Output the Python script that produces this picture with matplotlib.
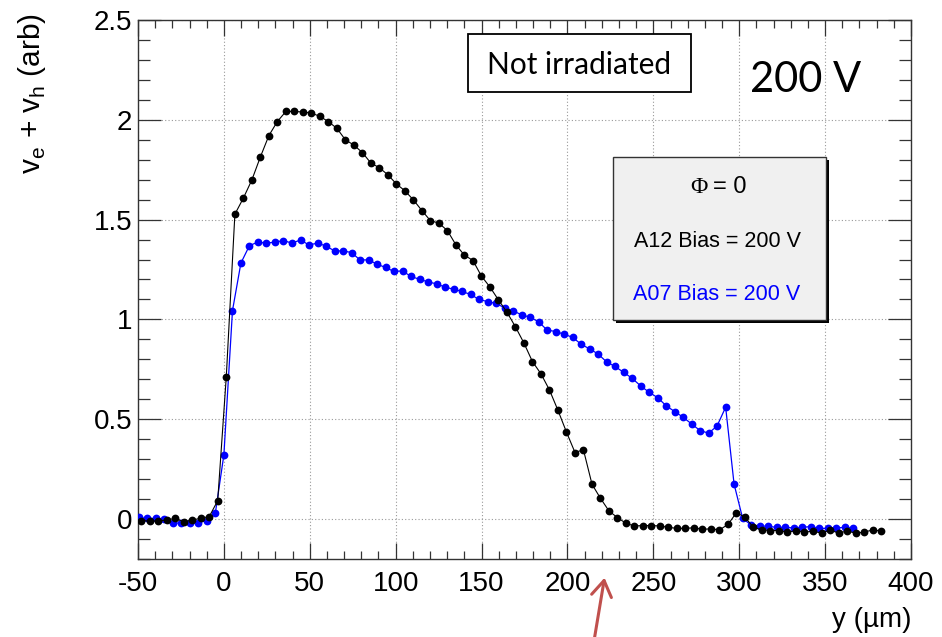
import matplotlib.pyplot as plt
from matplotlib.patches import Rectangle
from matplotlib.ticker import MultipleLocator

plt.rcParams['font.family'] = ['Liberation Sans', 'DejaVu Sans']
plt.rcParams['mathtext.fontset'] = 'custom'
plt.rcParams['mathtext.rm'] = 'Liberation Sans'
plt.rcParams['axes.unicode_minus'] = False

# A12, 200 V (black)
a12_x = [-48.1, -43.2, -38.2, -33.3, -28.3, -23.4, -18.4, -13.5, -8.5, -3.6,
         1.4, 6.4, 11.3, 16.3, 21.2, 26.2, 31.1, 36.1, 41.0, 46.0,
         50.9, 55.9, 60.8, 65.8, 70.7, 75.7, 80.6, 85.6, 90.5, 95.5,
         100.4, 105.4, 110.3, 115.3, 120.2, 125.2, 130.1, 135.1, 140.0, 145.0,
         149.9, 154.9, 159.8, 164.8, 169.7, 174.7, 179.6, 184.6, 189.5, 194.5,
         199.4, 204.4, 209.3, 214.3, 219.2, 224.2, 229.1, 234.1, 239.0, 244.0,
         248.9, 253.9, 258.8, 263.8, 268.7, 273.7, 278.6, 283.6, 288.5, 293.5,
         298.4, 303.4, 308.3, 313.3, 318.2, 323.2, 328.1, 333.1, 338.0, 343.0,
         347.9, 352.9, 357.8, 362.8, 367.7, 372.7, 377.6, 382.6]
a12_y = [-0.008, -0.010, -0.010, -0.005, 0.003, -0.013, -0.006, 0.004, 0.012, 0.092,
         0.713, 1.527, 1.607, 1.699, 1.813, 1.921, 1.991, 2.042, 2.042, 2.039,
         2.034, 2.017, 1.991, 1.957, 1.900, 1.873, 1.836, 1.783, 1.760, 1.724,
         1.679, 1.644, 1.599, 1.545, 1.495, 1.482, 1.445, 1.373, 1.322, 1.295,
         1.217, 1.162, 1.098, 1.036, 0.963, 0.881, 0.789, 0.727, 0.647, 0.544,
         0.436, 0.333, 0.347, 0.174, 0.104, 0.040, 0.007, -0.022, -0.035, -0.033,
         -0.033, -0.035, -0.042, -0.047, -0.047, -0.044, -0.052, -0.049, -0.055, -0.027,
         0.032, 0.008, -0.042, -0.055, -0.058, -0.058, -0.066, -0.058, -0.066, -0.061,
         -0.071, -0.055, -0.071, -0.060, -0.071, -0.066, -0.055, -0.060]

# A07, 200 V (blue)
a07_x = [-49.5, -44.6, -39.6, -34.7, -29.7, -24.8, -19.8, -14.9, -9.9, -5.0,
         0.0, 5.0, 9.9, 14.9, 19.8, 24.8, 29.7, 34.7, 39.6, 44.6,
         49.5, 54.5, 59.4, 64.4, 69.3, 74.3, 79.2, 84.2, 89.1, 94.1,
         99.0, 104.0, 108.9, 113.9, 118.8, 123.8, 128.7, 133.7, 138.6, 143.6,
         148.5, 153.5, 158.4, 163.4, 168.3, 173.3, 178.2, 183.2, 188.1, 193.1,
         198.0, 203.0, 207.9, 212.9, 217.8, 222.8, 227.7, 232.7, 237.6, 242.6,
         247.5, 252.5, 257.4, 262.4, 267.3, 272.3, 277.2, 282.2, 287.1, 292.1,
         297.0, 302.0, 306.9, 311.9, 316.8, 321.8, 326.7, 331.7, 336.6, 341.6,
         346.5, 351.5, 356.4, 361.4, 366.3]
a07_y = [0.008, 0.003, 0.003, -0.002, -0.018, -0.022, -0.022, -0.018, -0.008, 0.028,
         0.322, 1.044, 1.282, 1.370, 1.387, 1.382, 1.387, 1.395, 1.382, 1.398,
         1.373, 1.382, 1.368, 1.343, 1.343, 1.335, 1.298, 1.298, 1.277, 1.260,
         1.240, 1.243, 1.215, 1.201, 1.188, 1.178, 1.162, 1.151, 1.140, 1.125,
         1.100, 1.089, 1.080, 1.058, 1.043, 1.023, 1.011, 0.988, 0.947, 0.939,
         0.926, 0.910, 0.876, 0.852, 0.827, 0.787, 0.764, 0.735, 0.705, 0.667,
         0.635, 0.608, 0.568, 0.538, 0.510, 0.476, 0.443, 0.430, 0.466, 0.560,
         0.175, 0.003, -0.030, -0.035, -0.037, -0.042, -0.042, -0.045, -0.042, -0.038,
         -0.047, -0.047, -0.045, -0.042, -0.045]

x_ticks = [-50, 0, 50, 100, 150, 200, 250, 300, 350, 400]
x_labels = ['-50', '0', '50', '100', '150', '200', '250', '300', '350', '400']
y_ticks = [0, 0.5, 1, 1.5, 2, 2.5]
y_labels = ['0', '0.5', '1', '1.5', '2', '2.5']

W, H = 942, 637


def fx(px):
    return px / W


def fy(py):
    return 1 - py / H


fig = plt.figure(figsize=(W / 100, H / 100), dpi=100, facecolor='white')
ax = fig.add_axes([fx(138), fy(558.9), (911 - 138) / W, (558.9 - 20) / H])

ax.plot(a07_x, a07_y, '-o', color='#0000ff', lw=0.9, ms=5.6, mew=0, zorder=3)
ax.plot(a12_x, a12_y, '-o', color='black', lw=0.8, ms=5.6, mew=0, zorder=4)

ax.set_xlim(-50, 400)
ax.set_ylim(-0.2, 2.5)
ax.set_xticks(x_ticks, x_labels)
ax.set_yticks(y_ticks, y_labels)
ax.xaxis.set_minor_locator(MultipleLocator(10))
ax.yaxis.set_minor_locator(MultipleLocator(0.1))
ax.tick_params(which='both', direction='in', top=True, right=True,
               labelsize=20, color='#333333', width=0.9)
ax.tick_params(axis='x', which='major', length=11.3, pad=8.6)
ax.tick_params(axis='x', which='minor', length=5.8)
ax.tick_params(axis='y', which='major', length=16.6, pad=4.3)
ax.tick_params(axis='y', which='minor', length=8.6)
ax.grid(which='major', color='#999999', lw=0.8, linestyle=(0, (1, 2)))
for s in ax.spines.values():
    s.set_color('#333333')
    s.set_linewidth(1.0)

# axis titles
fig.text(fx(31.5), fy(13), r'v$_{\mathrm{e}}$ + v$_{\mathrm{h}}$ (arb)', rotation=90,
         ha='center', va='top', fontsize=21.5)
fig.text(fx(912), fy(620), 'y (µm)', ha='right', va='center', fontsize=20)

# "Not irradiated" box
fig.add_artist(Rectangle((fx(468), fy(92)), (691 - 468) / W, (92 - 34) / H,
                         transform=fig.transFigure, fc='white', ec='black', lw=1.3))
fig.text(fx(579.5), fy(74.3), 'Not irradiated', ha='center', va='baseline',
         fontsize=21.5, family=['Lato', 'DejaVu Sans'])
fig.text(fx(750), fy(91.7), '200 V', ha='left', va='baseline',
         fontsize=30, family=['Lato', 'DejaVu Sans'])

# legend pave with shadow
fig.add_artist(Rectangle((fx(616), fy(323)), (826 - 612.7) / W, (320 - 157.3) / H,
                         transform=fig.transFigure, fc='black', ec='none'))
fig.add_artist(Rectangle((fx(612.7), fy(320)), (826 - 612.7) / W, (320 - 157.3) / H,
                         transform=fig.transFigure, fc='#f0f0f0', ec='#333333', lw=1.0))
fig.text(fx(708), fy(193), 'Φ', ha='right', va='baseline', fontsize=17,
         family=['Liberation Serif', 'DejaVu Serif'])
fig.text(fx(713), fy(193), '= 0', ha='left', va='baseline', fontsize=17)
fig.text(fx(717), fy(246.7), 'A12 Bias = 200 V', ha='center', va='baseline',
         fontsize=15.5, color='black')
fig.text(fx(717), fy(300), 'A07 Bias = 200 V', ha='center', va='baseline',
         fontsize=15.5, color='#0000ff')

# red arrow pointing at the axis
ax.annotate('', xy=(605, H - 575), xycoords='figure pixels',
            xytext=(593, -10), textcoords='figure pixels', annotation_clip=False,
            arrowprops=dict(arrowstyle='->,head_length=0.7,head_width=0.45',
                            color='#c0504d', lw=2.2, mutation_scale=16))

fig.savefig('out.png', dpi=100)
